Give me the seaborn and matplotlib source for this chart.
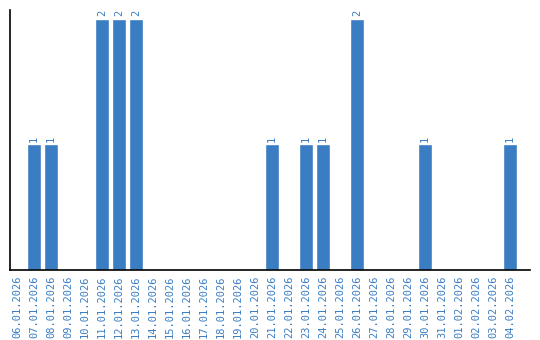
import matplotlib
matplotlib.use("Agg")
import matplotlib.pyplot as plt
import seaborn as sns
import pandas as pd

dates = ["06.01.2026", "07.01.2026", "08.01.2026", "09.01.2026", "10.01.2026",
         "11.01.2026", "12.01.2026", "13.01.2026", "14.01.2026", "15.01.2026",
         "16.01.2026", "17.01.2026", "18.01.2026", "19.01.2026", "20.01.2026",
         "21.01.2026", "22.01.2026", "23.01.2026", "24.01.2026", "25.01.2026",
         "26.01.2026", "27.01.2026", "28.01.2026", "29.01.2026", "30.01.2026",
         "31.01.2026", "01.02.2026", "02.02.2026", "03.02.2026", "04.02.2026"]
counts = [0, 1, 1, 0, 0, 2, 2, 2, 0, 0, 0, 0, 0, 0, 0,
          1, 0, 1, 1, 0, 2, 0, 0, 0, 1, 0, 0, 0, 0, 1]

color = "#3a7dc2"
df = pd.DataFrame({"date": dates, "count": counts})

sns.set_style("white")
plt.rcParams['font.family'] = ['DejaVu Sans Mono', 'DejaVu Sans']

fig = plt.figure(figsize=(5.4, 3.4), dpi=100)
ax = fig.add_axes([10/540, 70/340, 520/540, 260/340])
sns.barplot(data=df, x="date", y="count", color=color, saturation=1,
            width=0.82, ax=ax)
ax.set_xlim(-0.41, len(dates) - 1 + 1.18)
ax.set_ylim(0, 2.07)
ax.set_xlabel("")
ax.set_ylabel("")
ax.set_yticks([])
ax.tick_params(axis="x", rotation=90, labelsize=7.5, labelcolor=color,
               length=0, pad=4)
for s in ["top", "right"]:
    ax.spines[s].set_visible(False)
for s in ["left", "bottom"]:
    ax.spines[s].set_color("black")
    ax.spines[s].set_linewidth(1.2)

for i, v in enumerate(counts):
    if v > 0:
        ax.text(i, v + 0.02, str(v), rotation=90, ha="center", va="bottom",
                fontsize=7.5, color=color)

fig.savefig("out.png", dpi=100)
